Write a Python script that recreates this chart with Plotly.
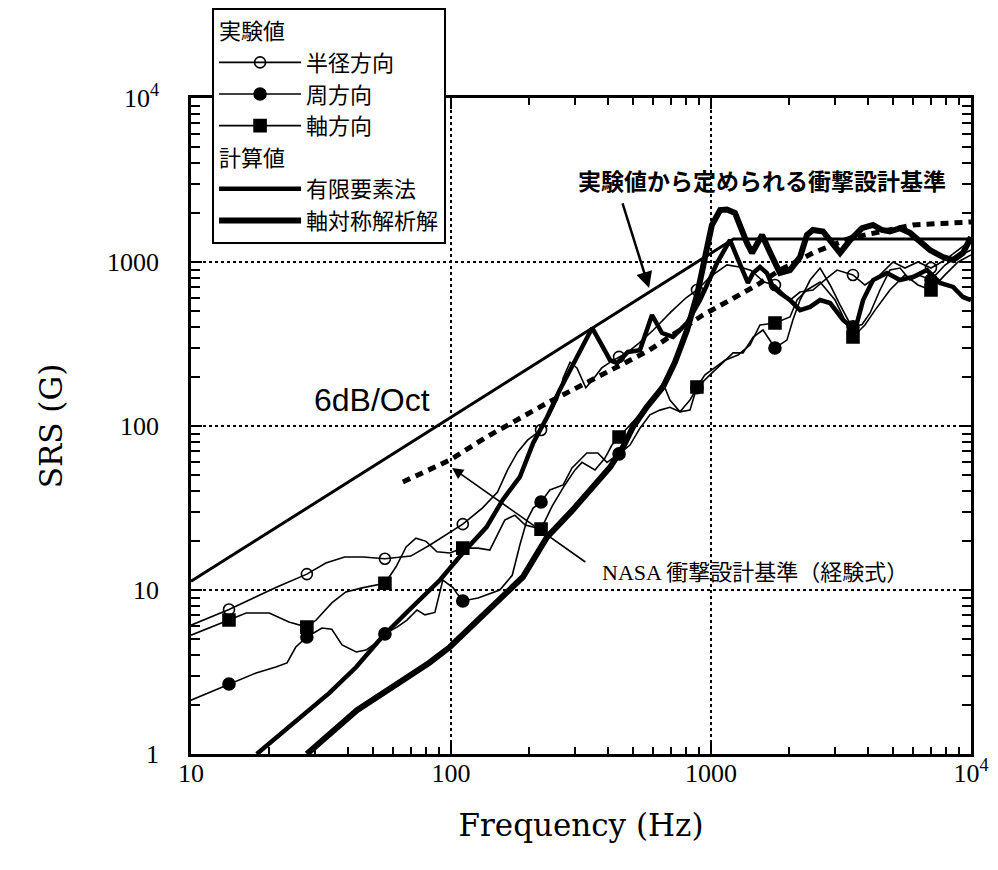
import numpy as np
import plotly.graph_objects as go

# ---------------- data (frequency in Hz, SRS in G) ----------------
marker_freq = [14.0, 27.9, 55.7, 111, 222, 443, 883, 1762, 3516, 7015]

radial_f = [10, 14.0, 17.8, 21.3, 27.9, 33, 39, 46, 55.7, 70, 83, 95, 111, 132, 151,
            165, 180, 197, 222, 240, 258, 270, 287, 305, 330, 355, 380, 410, 443, 480,
            530, 600, 700, 800, 883, 1000, 1153, 1303, 1426, 1600, 1762, 2013, 2200, 2466,
            2793, 3055, 3516, 3908, 4467, 5012, 5572, 6252, 7015, 7943, 8913, 10000]
radial_g = [6.1, 7.6, 9.1, 10.4, 12.5, 14.6, 15.9, 15.9, 15.5, 16.1, 18.8, 21.6, 25.2, 31.6, 39.6,
            54, 69, 82, 94.6, 117, 148, 196, 245, 226, 171, 196, 226, 245, 264, 283,
            321, 385, 495, 603, 675, 820, 960, 930, 889, 755, 724, 586, 656, 675,
            798, 893, 834, 724, 834, 1000, 919, 1000, 919, 1028, 1183, 1361]

circ_f = [10, 14.0, 17.8, 21.2, 23.4, 25.3, 27.9, 31.9, 34.8, 38.1, 43.2, 47.1, 51.5, 55.7, 62,
          67.7, 74, 79.4, 86.7, 93, 102, 105, 111, 127, 154, 172, 184, 196, 207, 222,
          240, 270, 292, 333, 367, 398, 443, 488, 533, 582, 636, 695, 760, 830, 883,
          991, 1111, 1216, 1328, 1452, 1585, 1687, 1762, 1959, 2065, 2200, 2405, 2627, 2872, 3135,
          3367, 3516, 3811, 4093, 4467, 4877, 5333, 5826, 6366, 7015, 7943, 8670, 10000]
circ_g = [2.13, 2.67, 3.12, 3.39, 3.59, 4.49, 5.17, 5.86, 5.76, 4.62, 4.19, 4.3, 4.75, 5.4, 5.94,
          6.56, 7.55, 7.05, 7.3, 11.5, 10.3, 9.6, 8.57, 8.93, 10, 12.3, 18.8, 26.7, 31.6, 34.4,
          40.7, 43.7, 55.5, 68.4, 68.4, 60, 67.6, 76.5, 97, 117, 125, 130, 122, 144, 171,
          205, 242, 279, 279, 349, 385, 334, 299, 334, 443, 586, 776, 919, 724, 547,
          443, 402, 416, 489, 675, 893, 919, 776, 826, 776, 958, 1057, 1183]

axial_f = [10, 14.0, 16.3, 20, 23.8, 27.9, 30.3, 34.8, 39.4, 45.5, 55.7, 61.4, 67.2, 73.3, 80.2,
           88.3, 99, 111, 127, 141, 161, 176, 193, 222, 245, 274, 300, 319, 358, 391,
           416, 443, 488, 543, 610, 654, 695, 760, 830, 883, 948, 1036, 1132, 1270, 1413,
           1543, 1762, 2013, 2143, 2339, 2627, 3000, 3276, 3516, 3908, 4276, 4877, 5572, 6252, 7015,
           7943, 8913, 10000]
axial_g = [5.3, 6.56, 7.24, 7.24, 6.38, 5.94, 6.56, 8.34, 9.73, 10.3, 11.0, 13.8, 18.3, 20.7, 19.8,
           17.1, 16.8, 18.0, 18, 17.5, 26.7, 28.6, 24.9, 23.5, 32.5, 43.7, 54, 60, 54, 63.8,
           76.5, 85.7, 101, 122, 155, 183, 144, 122, 125, 173, 205, 226, 252, 271, 312,
           413, 425, 462, 586, 675, 755, 586, 443, 349, 413, 509, 675, 834, 724, 675,
           834, 1000, 1105]

fem_f = [17.9, 25.4, 34, 43.2, 54.3, 67.2, 82.3, 90.7, 111, 137, 158, 184, 207, 234, 262,
         305, 349, 384, 409, 435, 479, 533, 593, 648, 714, 809, 908, 1055, 1183, 1259,
         1328, 1387, 1452, 1543, 1641, 1730, 1841, 2013, 2200, 2405, 2627, 2872, 3221, 3583, 3846,
         4200, 4752, 5333, 5984, 6771, 7605, 8531, 9310, 10000]
fem_g = [1.0, 1.61, 2.35, 3.39, 5.17, 7.24, 10, 11.5, 16.8, 24.2, 35.4, 48.9, 78.7, 113, 166,
         264, 396, 303, 252, 242, 283, 290, 475, 369, 349, 425, 586, 986, 1361, 1072,
         857, 745, 857, 933, 857, 705, 647, 586, 509, 532, 586, 562, 443, 385, 586,
         776, 857, 776, 811, 893, 745, 705, 612, 586]

axi_f = [27.9, 43.5, 82.3, 99, 189, 234, 294, 352, 409, 459, 501, 567, 654, 727, 809,
         884, 948, 1008, 1084, 1153, 1237, 1294, 1375, 1438, 1504, 1572, 1656, 1762, 1841, 2013,
         2200, 2339, 2466, 2697, 2872, 3135, 3428, 3811, 4200, 4548, 4877, 5333, 5826, 6366, 6953,
         7802, 8531, 9310, 10000]
axi_g = [1.0, 1.85, 3.59, 4.49, 12, 21, 30.8, 42.5, 56, 74.5, 98.6, 131, 173, 245, 385,
         630, 1028, 1682, 2075, 2090, 1990, 1634, 1306, 1135, 1306, 1462, 1216, 986, 857, 893,
         1072, 1462, 1567, 1535, 1361, 1135, 1361, 1610, 1682, 1567, 1535, 1608, 1505, 1324, 1183,
         1072, 1028, 1135, 1420]

nasa_f = [65.3, 99, 137, 234, 573, 931, 1183, 1504, 1841, 2466, 3428, 4467, 5984, 10000]
nasa_g = [45.6, 62, 85.7, 138, 287, 475, 586, 724, 893, 1135, 1400, 1535, 1682, 1754]

design_f = [10, 1220, 10000]
design_g = [11.3, 1380, 1380]

x_ticks = [10, 100, 1000, 10000]
x_ticktext = ["10", "100", "1000", "10<sup>4</sup>"]
y_ticks = [1, 10, 100, 1000, 10000]
y_ticktext = ["1", "10", "100", "1000", "10<sup>4</sup>"]

# ---------------- figure ----------------
BLACK = "black"
fig = go.Figure()


def marker_sizes(freqs, size):
    return [size if any(abs(f - m) / m < 0.01 for m in marker_freq) else 0 for f in freqs]


# design criterion (6dB/Oct)
fig.add_trace(go.Scatter(x=design_f, y=design_g, mode="lines",
                         line=dict(color=BLACK, width=3), showlegend=False, hoverinfo="skip"))
# NASA criterion
fig.add_trace(go.Scatter(x=nasa_f, y=nasa_g, mode="lines",
                         line=dict(color=BLACK, width=5, dash="8px,6px"),
                         showlegend=False, hoverinfo="skip"))

exp_series = [
    ("半径方向", radial_f, radial_g, "circle-open", 11),
    ("周方向", circ_f, circ_g, "circle", 12),
    ("軸方向", axial_f, axial_g, "square", 12),
]
for name, fx, gy, sym, ms in exp_series:
    fig.add_trace(go.Scatter(
        x=fx, y=gy, mode="lines+markers",
        line=dict(color=BLACK, width=1.6),
        marker=dict(symbol=sym, size=marker_sizes(fx, ms), color=BLACK, opacity=1,
                    line=dict(color=BLACK, width=1.6)),
        showlegend=False, hoverinfo="skip"))

fig.add_trace(go.Scatter(x=fem_f, y=fem_g, mode="lines", name="有限要素法",
                         line=dict(color=BLACK, width=4.5),
                         legendgroup="calc", legendgrouptitle=dict(text="計算値"),
                         legendrank=4))
fig.add_trace(go.Scatter(x=axi_f, y=axi_g, mode="lines", name="軸対称解析解",
                         line=dict(color=BLACK, width=6),
                         legendgroup="calc", legendgrouptitle=dict(text="計算値"),
                         legendrank=5))

# legend-only entries for the measured series
for i, (name, fx, gy, sym, ms) in enumerate(exp_series):
    fig.add_trace(go.Scatter(
        x=[None], y=[None], mode="lines+markers", name=name,
        line=dict(color=BLACK, width=1.6),
        marker=dict(symbol=sym, size=ms, color=BLACK, opacity=1,
                    line=dict(color=BLACK, width=1.6)),
        legendgroup="exp", legendgrouptitle=dict(text="実験値"), legendrank=1 + i))

minor_x = [m * 10 ** d for d in range(1, 4) for m in range(2, 10)]
minor_y = [m * 10 ** d for d in range(0, 4) for m in range(2, 10)]

axis_common = dict(
    type="log", showline=True, linecolor=BLACK, linewidth=2.5, mirror="ticks",
    ticks="inside", ticklen=11, tickwidth=2, tickcolor=BLACK,
    showgrid=True, gridcolor=BLACK, gridwidth=1.8, griddash="dot",
    zeroline=False, tickmode="array",
    tickfont=dict(family="Liberation Serif", size=26, color=BLACK),
)

fig.update_layout(
    width=982, height=854,
    margin=dict(l=183, r=19, t=90, b=108, autoexpand=False),
    paper_bgcolor="white", plot_bgcolor="white",
    xaxis=dict(axis_common, range=[1, 4], tickvals=x_ticks, ticktext=x_ticktext,
               ticklabelstandoff=-6,
               minor=dict(tickmode="array", tickvals=minor_x, ticks="inside", ticklen=7,
                          tickwidth=1.5, tickcolor=BLACK, showgrid=False),
               title=dict(text="Frequency (Hz)", standoff=28,
                          font=dict(family="DejaVu Serif", size=31, color=BLACK))),
    yaxis=dict(axis_common, range=[0, 4], tickvals=y_ticks, ticktext=y_ticktext,
               ticklabelstandoff=24,
               minor=dict(tickmode="array", tickvals=minor_y, ticks="inside", ticklen=9,
                          tickwidth=1.5, tickcolor=BLACK, showgrid=False),
               title=dict(text="SRS (G)", standoff=36,
                          font=dict(family="DejaVu Serif", size=31, color=BLACK))),
    legend=dict(x=0.027, y=1.1372, xanchor="left", yanchor="top",
                bgcolor="white", bordercolor=BLACK, borderwidth=2,
                font=dict(family="Noto Sans CJK JP", size=22, color=BLACK),
                grouptitlefont=dict(family="Noto Sans CJK JP", size=22, color=BLACK),
                tracegroupgap=0, traceorder="grouped", itemwidth=82),
    showlegend=True,
)

L = np.log10
annotations = [
    # design criterion label + arrow
    dict(x=L(1570), y=L(3162), xref="x", yref="y", showarrow=False,
         text="<b>実験値から定められる衝撃設計基準</b>",
         font=dict(family="Noto Sans CJK JP", size=23, color=BLACK)),
    dict(x=L(578), y=L(693), ax=L(455), ay=L(2323), xref="x", yref="y", axref="x", ayref="y",
         showarrow=True, arrowhead=2, arrowsize=1.3, arrowwidth=2.5, arrowcolor=BLACK, text=""),
    # 6dB/Oct
    dict(x=L(49.7), y=L(144), xref="x", yref="y", showarrow=False, text="6dB/Oct",
         font=dict(family="Liberation Sans", size=32, color=BLACK)),
    # NASA criterion label + arrow
    dict(x=L(1477), y=L(12.7), xref="x", yref="y", showarrow=False,
         text="NASA 衝撃設計基準（経験式）",
         font=dict(family="Liberation Serif, Noto Sans CJK JP", size=22, color=BLACK)),
    dict(x=L(101), y=L(55.5), ax=L(333), ay=L(14.6), xref="x", yref="y", axref="x", ayref="y",
         showarrow=True, arrowhead=2, arrowsize=1.4, arrowwidth=1.6, arrowcolor=BLACK, text=""),
]
fig.update_layout(annotations=annotations)

fig.write_html("out.html")
